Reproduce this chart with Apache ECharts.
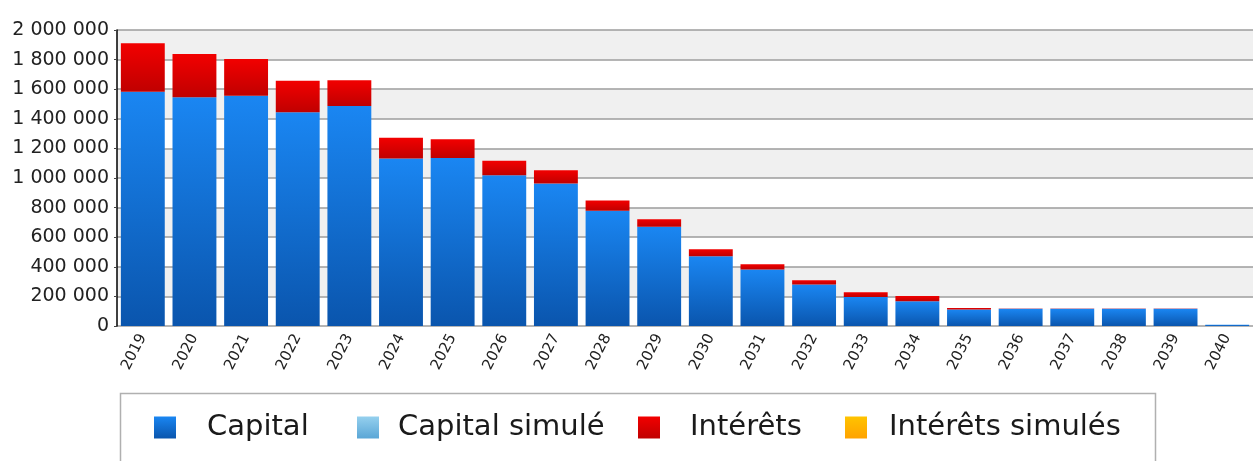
<!DOCTYPE html>
<html>
<head>
<meta charset="utf-8">
<script src="https://cdn.jsdelivr.net/npm/echarts@6/dist/echarts.min.js"></script>
<style>
html,body{margin:0;padding:0;background:#fff;}
#chart{width:1253px;height:461px;}
</style>
</head>
<body>
<div id="chart"></div>
<script>
const years = ['2019','2020','2021','2022','2023','2024','2025','2026','2027','2028','2029','2030','2031','2032','2033','2034','2035','2036','2037','2038','2039','2040'];
const capital = [1583000,1545000,1556000,1445000,1486000,1132000,1135000,1019000,963000,778000,670000,471000,381000,280000,196000,167000,112000,116000,116000,116000,116000,8000];
const capitalSimule = [];
const interets = [327000,293000,248000,212000,174000,140000,126000,97000,90000,70000,52000,48000,36000,29000,32000,36000,10000,2000,2000,2000,2000,0];
const interetsSimules = [];
const yTicks = {min:0, max:2000000, interval:200000};
const legendNames = ['Capital','Capital simulé','Intérêts','Intérêts simulés'];

const FONT = 'DejaVu Sans';
function grad(top, bottom){
  return new echarts.graphic.LinearGradient(0,0,0,1,[{offset:0,color:top},{offset:1,color:bottom}]);
}
const colCapital = grad('#1a86f2','#0a55ad');
const colCapSim = grad('#95d0ee','#5aa6d6');
const colInt = grad('#f20000','#c00000');
const colIntSim = grad('#ffc400','#ffa200');

function fmt(v){ return String(v).replace(/\B(?=(\d{3})+(?!\d))/g,' '); }

const legendIconX = [154, 357, 638, 845];
const legendTextX = [207, 398, 690, 889];
const legends = legendNames.map((n,i)=>({
  data:[n], left:legendIconX[i], top:413, orient:'horizontal',
  itemWidth:22, itemHeight:22, itemGap:0, padding:0,
  icon:'rect',
  textStyle:{fontFamily:FONT, fontSize:29, color:'#1a1a1a',
    padding:[0,0,0, legendTextX[i]-legendIconX[i]-22-5]},
  selectedMode:false
}));

const chart = echarts.init(document.getElementById('chart'), null, {renderer:'canvas'});
chart.setOption({
  animation:false,
  backgroundColor:'#fff',
  grid:{left:117, right:-10, top:30, bottom:135, containLabel:false},
  legend:legends,
  graphic:[{
    type:'rect', shape:{x:120.5, y:393.5, width:1035, height:90},
    style:{fill:'none', stroke:'#b0b0b0', lineWidth:1.5}, z:-1
  }],
  xAxis:{
    type:'category', data:years,
    axisLine:{show:false},
    axisTick:{show:false},
    axisLabel:{rotate:63, fontFamily:FONT, fontSize:15, color:'#222', margin:9, interval:0}
  },
  yAxis:{
    type:'value', min:yTicks.min, max:yTicks.max, interval:yTicks.interval,
    axisLine:{show:true, lineStyle:{color:'#000', width:1.5}},
    axisTick:{show:true, length:3, lineStyle:{color:'#444'}},
    axisLabel:{fontFamily:FONT, fontSize:19, color:'#222', margin:8, formatter:fmt},
    splitLine:{show:true, lineStyle:{color:'#9c9c9c', width:1.5}},
    splitArea:{show:true, areaStyle:{color:['#ffffff','#f0f0f0']}}
  },
  series:[
    {name:'Capital', type:'bar', stack:'t', data:capital, barCategoryGap:'15%', itemStyle:{color:colCapital}},
    {name:'Capital simulé', type:'bar', stack:'t', data:capitalSimule, itemStyle:{color:colCapSim}},
    {name:'Intérêts', type:'bar', stack:'t', data:interets, itemStyle:{color:colInt}},
    {name:'Intérêts simulés', type:'bar', stack:'t', data:interetsSimules, itemStyle:{color:colIntSim}}
  ]
});
</script>
</body>
</html>
